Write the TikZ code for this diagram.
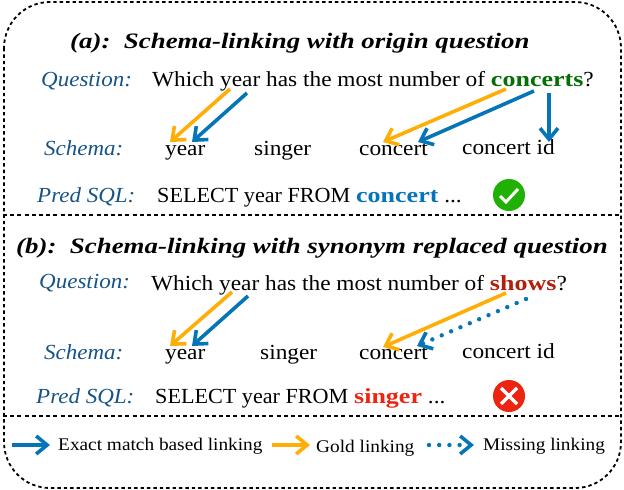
\documentclass[tikz,border=0pt]{standalone}
\usepackage{fontspec}
\setmainfont{Liberation Serif}[FakeStretch=1.085]
\newfontfamily\labfont[FakeStretch=1.07]{Liberation Serif}
\newfontfamily\sqlfont[FakeStretch=1.03]{Liberation Serif}
\newfontfamily\ttlfont[FakeStretch=1.222]{Liberation Serif}
\newfontfamily\hifont[FakeStretch=1.21]{Liberation Serif}
\newcommand{\hitext}[2]{\textcolor{#1}{\hifont\bfseries #2}}
\usetikzlibrary{arrows.meta}
\definecolor{lblue}{RGB}{22,84,135}
\definecolor{ablue}{RGB}{6,117,184}
\definecolor{agold}{RGB}{255,174,8}
\definecolor{cgreen}{RGB}{6,110,6}
\definecolor{sred}{RGB}{178,30,10}
\definecolor{rred}{RGB}{236,36,16}
\definecolor{okgreen}{RGB}{32,176,6}
\tikzset{
  txt/.style={anchor=base west,inner sep=0pt,font=\fontsize{21.5}{24}\selectfont},
  lab/.style={txt,text=lblue,font=\fontsize{21.5}{24}\labfont\itshape},
  ttl/.style={txt,font=\fontsize{22}{24}\ttlfont\bfseries\itshape},
  leg/.style={txt,font=\fontsize{17.8}{20}\selectfont},
  tipb/.style={-{Straight Barb[length=11pt,width=18pt,line width=3.6pt]},line width=3.6pt},
  lnk/.style={tipb,ablue},
  gold/.style={tipb,agold},
  miss/.style={ablue,line width=4.4pt,dash pattern=on 0pt off 10.2pt,line cap=round,
     -{Straight Barb[length=11pt,width=18pt,line width=3.6pt,line cap=butt]}},
  sep/.style={line width=1.5pt,dash pattern=on 4pt off 3.2pt},
  badge/.style={circle,inner sep=0pt,minimum size=32pt},
  markline/.style={white,line width=3.4pt}
}
\begin{document}
\begin{tikzpicture}[x=1pt,y=-1pt]
\useasboundingbox (0,0) rectangle (624,490);
\draw[line width=1.8pt,dash pattern=on 3.4pt off 3pt,rounded corners=46pt] (4,2) rectangle (621,488);
\coordinate (sl) at (3,215); \coordinate (sr) at (619,215);
\draw[sep] (sl) -- (sr);
\coordinate (tl) at (3,416); \coordinate (tr) at (619,416);
\draw[sep] (tl) -- (tr);

% panel a
\node[ttl] (ta) at (70,48) {(a):\ \ Schema-linking with origin question};
\node[lab] (qa) at (41,86) {Question:};
\node[txt] (qta) at (152,86) {Which year has the most number of \hitext{cgreen}{concerts}?};
\node[lab] (sa) at (44,155) {Schema:};
\node[txt] (y1) at (165,155) {year};
\node[txt] (s1) at (254,155) {singer};
\node[txt] (c1) at (359,155) {concert};
\node[txt] (i1) at (462,154) {concert id};
\node[lab] (pa) at (37,202) {Pred SQL:};
\node[txt] (sqa) at (157,202) {{\sqlfont SELECT year FROM} \hitext{ablue}{concert} ...};
\node[badge,fill=okgreen] (ok) at (509,195) {};
\draw[markline,line width=3pt] (ok.center) ++(-9,1) -- ++(6,6) -- ++(12,-13);

\coordinate (a1) at (230,89); \coordinate (a1t) at (170,142);
\coordinate (a2) at (247,93); \coordinate (a2t) at (192,142);
\coordinate (a3) at (506,89); \coordinate (a3t) at (383,142);
\coordinate (a4) at (534,91); \coordinate (a4t) at (418,142);
\coordinate (a5) at (549,93); \coordinate (a5t) at (549,142);
\draw[gold] (a1) -- (a1t);
\draw[lnk] (a2) -- (a2t);
\draw[gold] (a3) -- (a3t);
\draw[lnk] (a4) -- (a4t);
\draw[lnk] (a5) -- (a5t);

% panel b
\node[ttl] (tb) at (16,253) {(b):\ \ Schema-linking with synonym replaced question};
\node[lab] (qb) at (39,288) {Question:};
\node[txt] (qtb) at (151,290) {Which year has the most number of \hitext{sred}{shows}?};
\node[lab] (sb) at (44,359) {Schema:};
\node[txt] (y2) at (165,359) {year};
\node[txt] (s2) at (260,359) {singer};
\node[txt] (c2) at (359,359) {concert};
\node[txt] (i2) at (462,358) {concert id};
\node[lab] (pb) at (36,403) {Pred SQL:};
\node[txt] (sqb) at (155,403) {{\sqlfont SELECT year FROM} \hitext{rred}{singer} ...};
\node[badge,fill=rred] (no) at (509,396) {};
\draw[markline] (no.center) ++(-8,-8) -- ++(16,16);
\draw[markline] (no.center) ++(-8,8) -- ++(16,-16);

\coordinate (b1) at (232,292); \coordinate (b1t) at (170,346);
\coordinate (b2) at (248,296); \coordinate (b2t) at (192,346);
\coordinate (b3) at (506,293); \coordinate (b3t) at (383,347);
\coordinate (b4) at (526,299); \coordinate (b4t) at (417,346);
\draw[gold] (b1) -- (b1t);
\draw[lnk] (b2) -- (b2t);
\draw[gold] (b3) -- (b3t);
\draw[miss] (b4) -- (b4t);

% legend
\coordinate (l1) at (12,445); \coordinate (l1t) at (50,445);
\coordinate (l2) at (272,445); \coordinate (l2t) at (310,445);
\coordinate (l3) at (429,445); \coordinate (l3t) at (474,445);
\draw[lnk] (l1) -- (l1t);
\node[leg] (e1) at (58,450) {Exact match based linking};
\draw[gold] (l2) -- (l2t);
\node[leg] (e2) at (316,452) {Gold linking};
\draw[miss] (l3) -- (l3t);
\node[leg] (e3) at (483,450) {Missing linking};
\end{tikzpicture}
\end{document}
